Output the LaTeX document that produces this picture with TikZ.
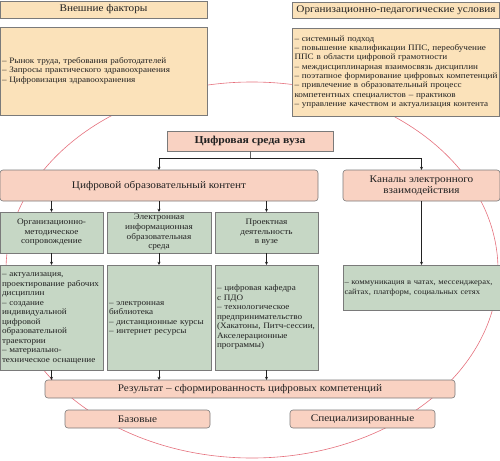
\documentclass[tikz,border=0pt]{standalone}
\usepackage{fontspec}
\setmainfont{Liberation Serif}[FakeStretch=1.1]
\usetikzlibrary{arrows.meta}
\definecolor{peach}{HTML}{FBE2BA}
\definecolor{salmon}{HTML}{F9D2C2}
\definecolor{sage}{HTML}{C6D7C5}
\definecolor{edge}{HTML}{7A7A7A}
\definecolor{ring}{HTML}{E5707C}
\definecolor{ink}{HTML}{222222}
\newcommand{\mylines}[1]{\begin{tabular}{@{}l@{}}#1\end{tabular}}
\tikzset{
  base/.style={draw=edge, line width=0.6pt, text=ink, inner sep=2pt, outer sep=0pt},
  titlebox/.style={base, fill=peach, font=\fontsize{10.2}{11.5}\selectfont},
  listbox/.style={base, fill=peach, align=left, font=\fontsize{8.3}{9.3}\selectfont},
  pinkround/.style={base, fill=salmon, rounded corners=3pt, align=center, font=\fontsize{10.2}{11.5}\selectfont},
  greenhead/.style={base, fill=sage, align=center, font=\fontsize{8.4}{9.6}\selectfont},
  greenlist/.style={base, fill=sage, align=left, font=\fontsize{8.3}{9.5}\selectfont},
  arr/.style={draw=ink, line width=0.5pt, -{Stealth[length=3.2pt,width=3pt]}},
  link/.style={draw=ink!70, line width=0.5pt},
}
\begin{document}
\begin{tikzpicture}[x=1pt,y=-1pt]
\useasboundingbox (0,0) rectangle (500,460);
\draw[ring, line width=0.6pt] (252,270) ellipse [x radius=246pt, y radius=188pt];

\node[titlebox, minimum width=207pt, minimum height=17pt] (exttitle) at (103.5,9.5) {Внешние факторы};
\node[listbox, minimum width=207pt, minimum height=88pt, text width=203pt] (ext) at (103.5,71)
  {\mylines{– Рынок труда, требования работодателей\\– Запросы практического здравоохранения\\– Цифровизация здравоохранения}};
\node[titlebox, minimum width=207pt, minimum height=16pt] (orgtitle) at (396,10) {Организационно-педагогические условия};
\node[listbox, minimum width=207pt, minimum height=88pt, text width=203pt] (org) at (396,72)
  {\mylines{– системный подход\\– повышение квалификации ППС, переобучение\\ППС в области цифровой грамотности\\– междисциплинарная взаимосвязь дисциплин\\– поэтапное формирование цифровых компетенций\\– привлечение в образовательный процесс\\компетентных специалистов – практиков\\– управление качеством и актуализация контента}};

\node[base, fill=salmon, minimum width=166pt, minimum height=20pt, font=\fontsize{10.6}{12}\selectfont\bfseries] (env) at (250,141) {Цифровая среда вуза};
\node[pinkround, minimum width=318pt, minimum height=31pt] (content) at (159,185.5) {Цифровой образовательный контент};
\node[pinkround, minimum width=157pt, minimum height=31pt] (chan) at (421.5,185.5) {Каналы электронного\\взаимодействия};

\node[greenhead, minimum width=103pt, minimum height=41pt] (h1) at (51.5,232.5) {Организационно-\\методическое\\сопровождение};
\node[greenhead, minimum width=104pt, minimum height=41pt] (h2) at (159,232.5) {Электронная\\информационная\\образовательная\\среда};
\node[greenhead, minimum width=103pt, minimum height=41pt] (h3) at (266.5,232.5) {Проектная\\деятельность\\в вузе};

\node[greenlist, minimum width=103pt, minimum height=105pt, text width=99pt] (l1) at (51.5,317.5)
  {\mylines{– актуализация,\\проектирование рабочих\\дисциплин\\– создание\\индивидуальной\\цифровой\\образовательной\\траектории\\– материально-\\техническое оснащение}};
\node[greenlist, minimum width=104pt, minimum height=105pt, text width=100pt] (l2) at (159,317.5)
  {\mylines{– электронная\\библиотека\\– дистанционные курсы\\– интернет ресурсы}};
\node[greenlist, minimum width=103pt, minimum height=105pt, text width=99pt] (l3) at (266.5,317.5)
  {\raisebox{-4pt}{\mylines{– цифровая кафедра\\с ПДО\\– технологическое\\предпринимательство\\(Хакатоны, Питч-сессии,\\Акселерационные\\программы)}}};
\node[greenlist, minimum width=157pt, minimum height=45pt, text width=154pt, inner sep=1.5pt, font=\fontsize{7.8}{9.3}\selectfont] (cl) at (421.5,287.5)
  {\mylines{– коммуникация в чатах, мессенджерах,\\сайтах, платформ, социальных сетях}};

\node[pinkround, minimum width=410pt, minimum height=18pt] (res) at (250,389) {Результат – сформированность цифровых компетенций};
\node[pinkround, minimum width=145pt, minimum height=18pt] (basic) at (137.5,419) {Базовые};
\node[pinkround, minimum width=145pt, minimum height=18pt] (spec) at (362.5,419) {Специализированные};

\draw[link] (env.south) -- ++(0,7) coordinate (j);
\draw[arr] (j) -| (content.north);
\draw[arr] (j) -| (chan.north);
\foreach \h in {h1,h2,h3} {
  \draw[arr] (\h.north |- content.south) -- (\h.north);
}
\draw[arr] (h1.south) -- (l1.north);
\draw[arr] (h2.south) -- (l2.north);
\draw[arr] (h3.south) -- (l3.north);
\draw[arr] (chan.south) -- (cl.north);
\foreach \l in {l1,l2,l3} {
  \draw[arr] (\l.south) -- (\l.south |- res.north);
}
\end{tikzpicture}
\end{document}
